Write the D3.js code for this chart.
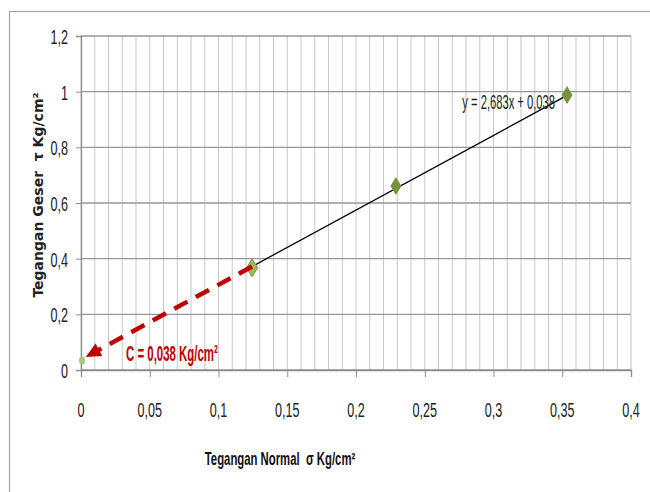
<!DOCTYPE html>
<html><head><meta charset="utf-8">
<script src="https://cdn.jsdelivr.net/npm/d3@7"></script>
<style>body{margin:0;background:#fff} text{white-space:pre}</style>
</head><body>
<svg id="c" width="650" height="492"></svg>
<script>
// Data
const sigma = [0.1244, 0.229, 0.3535];     // Tegangan Normal (Kg/cm²)
const tau   = [0.367, 0.661, 0.988];       // Tegangan Geser (Kg/cm²)
const slope = 2.683, intercept = 0.038;    // trendline
const cohesionPoint = [0, 0.038];
const xTicks = [0,0.05,0.1,0.15,0.2,0.25,0.3,0.35,0.4];
const yTicks = [0,0.2,0.4,0.6,0.8,1,1.2];
const xMinor = d3.range(0, 41).map(i => i/100);
const eqLabel = "y = 2,683x + 0,038";
const cLabel = "C = 0,038 Kg/cm²";
const xTitle = "Tegangan Normal  σ Kg/cm²";
const yTitle = "Tegangan Geser  τ Kg/cm²";

const svg = d3.select("#c");
const L=81, R=631, T=36, B=370;
const x = d3.scaleLinear().domain([0,0.4]).range([L,R]);
const y = d3.scaleLinear().domain([0,1.2]).range([B,T]);
const fmt = v => (v===0?"0":String(+v.toFixed(2))).replace(".",",");

// outer border
svg.append("rect").attr("x",9.5).attr("y",11.5).attr("width",700).attr("height",600)
  .attr("fill","none").attr("stroke","#a6a6a6").attr("stroke-width",1.2);

// vertical minor grid
svg.append("g").selectAll("line").data(xMinor).join("line")
  .attr("x1",d=>x(d)).attr("x2",d=>x(d)).attr("y1",T).attr("y2",B)
  .attr("stroke","#c8c8c8").attr("stroke-width",1);
// horizontal grid
svg.append("g").selectAll("line").data(yTicks).join("line")
  .attr("x1",L).attr("x2",R).attr("y1",d=>y(d)).attr("y2",d=>y(d))
  .attr("stroke","#979797").attr("stroke-width",1.3);

// axes
const xAxis = d3.axisBottom(x).tickValues(xTicks).tickSize(7).tickFormat("");
const gx = svg.append("g").attr("transform",`translate(0,${B})`).call(xAxis);
gx.select(".domain").attr("stroke","#8c8c8c").attr("stroke-width",1.3);
gx.selectAll(".tick line").attr("stroke","#8c8c8c");
const yAxis = d3.axisLeft(y).tickValues(yTicks).tickSize(5).tickFormat("");
const gy = svg.append("g").attr("transform",`translate(${L},0)`).call(yAxis);
gy.select(".domain").attr("stroke","#8c8c8c").attr("stroke-width",1.3);
gy.selectAll(".tick line").attr("stroke","#8c8c8c");

function sqText(g, px, py, txt, opts){
  const gg = g.append("g").attr("transform",`translate(${px},${py})`);
  return gg.append("text").attr("transform",`scale(${opts.sx},1)`)
    .attr("text-anchor",opts.anchor||"start")
    .attr("font-family","'Liberation Sans', Arial, sans-serif")
    .attr("font-size",opts.size).attr("font-weight",opts.weight||"normal")
    .attr("fill",opts.fill||"#222").text(txt);
}
// tick labels
yTicks.forEach(v => sqText(svg, 68, y(v)+8, fmt(v), {anchor:"end", size:21, sx:0.6}));
xTicks.forEach(v => sqText(svg, x(v), 417, fmt(v), {anchor:"middle", size:21, sx:0.6}));

// trendline
const xs = d3.extent(sigma);
svg.append("line").attr("x1",x(xs[0])).attr("y1",y(slope*xs[0]+intercept))
  .attr("x2",x(xs[1])).attr("y2",y(slope*xs[1]+intercept))
  .attr("stroke","#000").attr("stroke-width",1.3);

// cohesion point
svg.append("ellipse").attr("cx",x(cohesionPoint[0])+1).attr("cy",y(cohesionPoint[1])+1)
  .attr("rx",3).attr("ry",4).attr("fill","#a9c47f");

// diamonds
svg.append("g").selectAll("path").data(sigma).join("path")
  .attr("transform",(d,i)=>`translate(${x(d)},${y(tau[i])})`)
  .attr("d","M0,-9 L5.5,0 L0,9 L-5.5,0 Z")
  .attr("fill",(d,i)=> i===0 ? "#9bbb59" : "#77933c").attr("stroke",(d,i)=> i===0 ? "#77933c":"none");

// red dashed arrow to intercept
const x0 = sigma[0], y0 = slope*sigma[0]+intercept;
const tx = 0.002, ty = slope*tx+intercept;
const p1 = [x(x0), y(y0)], p2 = [x(tx)+2, y(ty)-1];
const ang = Math.atan2(p2[1]-p1[1], p2[0]-p1[0]);
const headLen = 15, headW = 7;
const base = [p2[0]-headLen*Math.cos(ang), p2[1]-headLen*Math.sin(ang)];
svg.append("line").attr("x1",p1[0]).attr("y1",p1[1]).attr("x2",base[0]+2*Math.cos(ang)).attr("y2",base[1]+2*Math.sin(ang))
  .attr("stroke","#c00000").attr("stroke-width",4.5).attr("stroke-dasharray","15 9.5");
const nx = -Math.sin(ang), ny = Math.cos(ang);
svg.append("path")
  .attr("d",`M${p2[0]},${p2[1]} L${base[0]+headW*nx},${base[1]+headW*ny} L${base[0]-headW*nx},${base[1]-headW*ny} Z`)
  .attr("fill","#c00000");

// labels
sqText(svg, 555, 109, eqLabel, {anchor:"end", size:20, sx:0.56});
sqText(svg, 126, 361, cLabel, {weight:"bold", fill:"#c00000", size:22, sx:0.52});
sqText(svg, 280, 465, xTitle, {weight:"bold", size:18, anchor:"middle", sx:0.63, fill:"#111"});

svg.append("text").attr("transform","translate(43,195) rotate(-90)")
  .attr("text-anchor","middle").attr("font-family","'DejaVu Sans', Verdana, sans-serif")
  .attr("font-weight","bold").attr("font-size",14).attr("fill","#222").text(yTitle);
</script>
</body></html>
